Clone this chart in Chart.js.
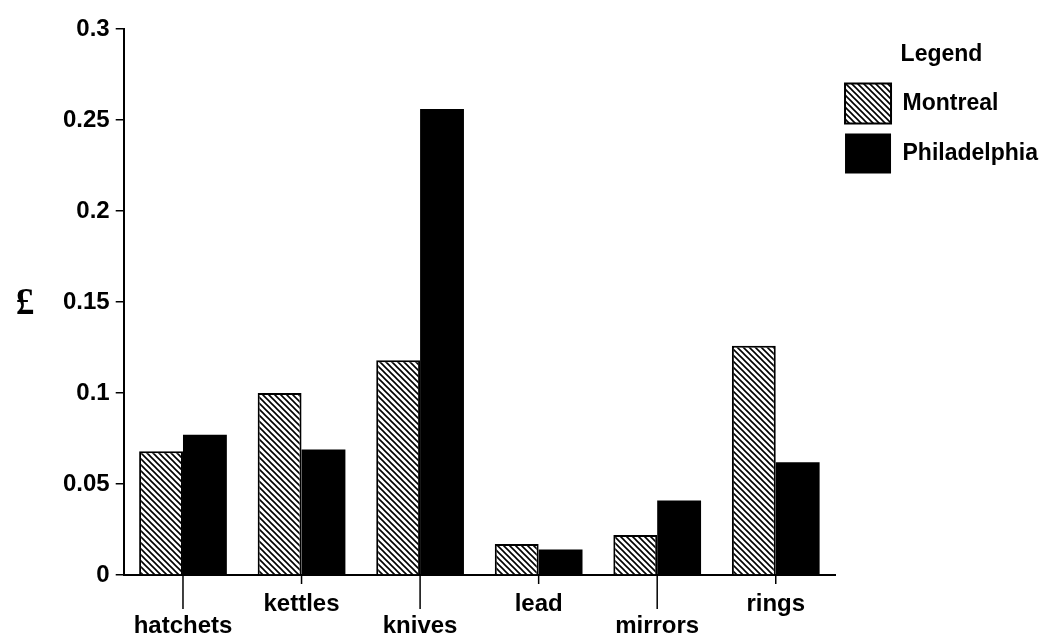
<!DOCTYPE html>
<html>
<head>
<meta charset="utf-8">
<script src="https://cdn.jsdelivr.net/npm/chart.js@4"></script>
<style>
  html, body { margin: 0; padding: 0; background: #fff; }
  #wrap { width: 1054px; height: 638px; }
</style>
</head>
<body>
<div id="wrap"><canvas id="bar-chart"></canvas></div>
<script>
// values (pounds)
var categories = ["hatchets", "kettles", "knives", "lead", "mirrors", "rings"];
var montreal = [0.068, 0.100, 0.118, 0.017, 0.022, 0.126];
var philadelphia = [0.077, 0.069, 0.256, 0.014, 0.041, 0.062];
var yTicks = [0, 0.05, 0.1, 0.15, 0.2, 0.25, 0.3];

var FONT = "'Liberation Sans', Arial, sans-serif";

// diagonal hatch for the Montreal bars
function hatch() {
  var c = document.createElement("canvas");
  c.width = 6; c.height = 6;
  var g = c.getContext("2d");
  g.fillStyle = "#fff";
  g.fillRect(0, 0, 6, 6);
  g.strokeStyle = "#000";
  g.lineWidth = 1.6;
  g.beginPath();
  g.moveTo(-1, -1); g.lineTo(7, 7);
  g.moveTo(5, -1); g.lineTo(7, 1);
  g.moveTo(-1, 5); g.lineTo(1, 7);
  g.stroke();
  return g.createPattern(c, "repeat");
}

// x tick marks alternate short / long like the staggered labels
var xTickMarks = {
  id: "xTickMarks",
  afterDraw: function (chart) {
    var sx = chart.scales.x, ctx = chart.ctx;
    ctx.save();
    ctx.strokeStyle = "#000";
    ctx.lineWidth = 1.5;
    categories.forEach(function (c, i) {
      var px = sx.getPixelForValue(i);
      ctx.beginPath();
      ctx.moveTo(px, sx.top);
      ctx.lineTo(px, sx.top + (i % 2 === 0 ? 34 : 9));
      ctx.stroke();
    });
    ctx.restore();
  }
};

// upright pound sign as the y axis title
var poundLabel = {
  id: "poundLabel",
  afterDraw: function (chart) {
    var sy = chart.scales.y, ctx = chart.ctx;
    ctx.save();
    ctx.fillStyle = "#000";
    ctx.font = "bold 37px 'Liberation Serif', 'DejaVu Serif', serif";
    ctx.textAlign = "center";
    ctx.textBaseline = "middle";
    ctx.fillText("£", 25, (sy.top + sy.bottom) / 2 + 2);
    ctx.restore();
  }
};

new Chart(document.getElementById("bar-chart"), {
  type: "bar",
  data: {
    labels: categories,
    datasets: [{
      label: "Montreal",
      data: montreal,
      backgroundColor: hatch(),
      borderColor: "#000",
      borderWidth: 2,
      borderSkipped: "bottom"
    }, {
      label: "Philadelphia",
      data: philadelphia,
      backgroundColor: "#000",
      borderColor: "#000",
      borderWidth: 0
    }]
  },
  options: {
    responsive: true,
    maintainAspectRatio: false,
    animation: false,
    layout: { padding: { left: 57, top: 29, right: 6, bottom: 0 } },
    datasets: { bar: { categoryPercentage: 0.74, barPercentage: 1.0 } },
    scales: {
      x: {
        afterFit: function (s) { s.height = 63; },
        grid: { display: true, drawOnChartArea: false, drawTicks: false },
        border: { display: true, color: "#000", width: 2 },
        ticks: {
          color: "#000",
          padding: 18,
          maxRotation: 0,
          autoSkip: false,
          font: { family: FONT, size: 24, weight: "bold", lineHeight: 0.92 },
          callback: function (v, i) { return i % 2 === 0 ? ["", categories[i]] : categories[i]; }
        }
      },
      y: {
        min: 0,
        max: 0.3,
        afterBuildTicks: function (axis) { axis.ticks = yTicks.map(function (v) { return { value: v }; }); },
        grid: { display: true, drawOnChartArea: false, drawTicks: true, tickLength: 8, color: "#000", lineWidth: 1.5 },
        border: { display: true, color: "#000", width: 2 },
        ticks: {
          color: "#000",
          padding: 6,
          font: { family: FONT, size: 24, weight: "bold" },
          callback: function (v) { return String(v); }
        }
      }
    },
    plugins: {
      tooltip: { enabled: false },
      legend: {
        position: "right",
        align: "start",
        title: { display: true, text: "Legend", color: "#000", padding: { top: 14, bottom: 3 }, font: { family: FONT, size: 23, weight: "bold" } },
        labels: {
          color: "#000",
          boxWidth: 46,
          boxHeight: 40,
          padding: 10,
          font: { family: FONT, size: 23, weight: "bold" }
        }
      }
    }
  },
  plugins: [xTickMarks, poundLabel]
});
</script>
</body>
</html>
